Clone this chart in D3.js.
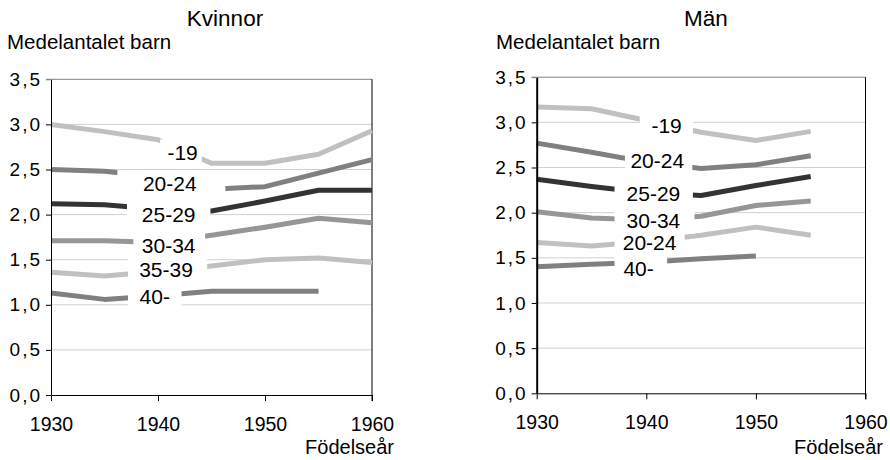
<!DOCTYPE html>
<html>
<head>
<meta charset="utf-8">
<script src="https://cdn.jsdelivr.net/npm/d3@7"></script>
<style>
  html, body { margin: 0; padding: 0; background: #fff; }
  svg { display: block; font-family: "Liberation Sans", Arial, sans-serif; }
</style>
</head>
<body>
<svg id="chart" width="890" height="460"></svg>
<script>
// ---- data ----
const years = [1930, 1935, 1940, 1945, 1950, 1955, 1960];
const yTicks = [0, 0.5, 1.0, 1.5, 2.0, 2.5, 3.0, 3.5];
const xTicks = [1930, 1940, 1950, 1960];

// Kvinnor
const kvinnorNames = ["-19", "20-24", "25-29", "30-34", "35-39", "40-"];
const kv19   = [3.00, 2.92, 2.83, 2.57, 2.57, 2.67, 2.93];
const kv2024 = [2.50, 2.48, 2.42, 2.28, 2.31, 2.46, 2.61];
const kv2529 = [2.12, 2.11, 2.06, 2.04, 2.15, 2.27, 2.27];
const kv3034 = [1.71, 1.71, 1.69, 1.77, 1.86, 1.96, 1.91];
const kv3539 = [1.36, 1.32, 1.37, 1.43, 1.50, 1.52, 1.47];
const kv40   = [1.13, 1.06, 1.10, 1.15, 1.15, 1.15, null];

// Män
const manNames = ["-19", "20-24", "25-29", "30-34", "20-24", "40-"];
const man19   = [3.17, 3.15, 3.02, 2.89, 2.80, 2.90, null];
const man2024 = [2.77, 2.67, 2.56, 2.49, 2.53, 2.63, null];
const man2529 = [2.37, 2.29, 2.22, 2.19, 2.30, 2.40, null];
const man3034 = [2.01, 1.94, 1.92, 1.96, 2.08, 2.13, null];
const man3539 = [1.67, 1.63, 1.68, 1.75, 1.84, 1.75, null];
const man40   = [1.40, 1.43, 1.45, 1.49, 1.52, null, null];

// ---- layout / style ----
const seriesColors = ["#c0c0c0", "#808080", "#333333", "#969696", "#c0c0c0", "#808080"];

// label placement: centre (year, value) and white box span in years
const kvLabelLayout = [
  {yr: 1942.3, val: 2.69, x0: 1940.2, x1: 1944.1},
  {yr: 1941.1, val: 2.35, x0: 1936.2, x1: 1946.3},
  {yr: 1941.0, val: 2.00, x0: 1937.1, x1: 1944.9},
  {yr: 1941.0, val: 1.66, x0: 1937.7, x1: 1944.4},
  {yr: 1940.75, val: 1.39, x0: 1937.2, x1: 1944.6},
  {yr: 1939.7, val: 1.09, x0: 1937.2, x1: 1942.2}
];
const manLabelLayout = [
  {yr: 1941.85, val: 2.97, x0: 1939.4, x1: 1944.25},
  {yr: 1941.0, val: 2.58, x0: 1938.05, x1: 1944.2},
  {yr: 1940.65, val: 2.21, x0: 1937.1, x1: 1944.25},
  {yr: 1940.65, val: 1.91, x0: 1937.1, x1: 1944.4},
  {yr: 1940.3, val: 1.67, x0: 1937.1, x1: 1943.5},
  {yr: 1939.3, val: 1.38, x0: 1937.1, x1: 1941.9}
];

const svg = d3.select("#chart");
const fmt = v => d3.format(".1f")(v).replace(".", ",");

function drawPanel(p) {
  const x = d3.scaleLinear().domain([1930, 1960]).range([p.left, p.right]);
  const y = d3.scaleLinear().domain([0, 3.5]).range([p.bottom, p.top]);
  const g = svg.append("g");

  // gridlines
  g.selectAll("line.grid").data(yTicks.filter(t => t > 0 && t < 3.5)).join("line")
    .attr("x1", p.left).attr("x2", p.right)
    .attr("y1", d => y(d)).attr("y2", d => y(d))
    .attr("stroke", "#d0d0d0").attr("stroke-width", 1);

  // top border (gray) incl. tick
  g.append("line").attr("x1", p.left - 5).attr("x2", p.right)
    .attr("y1", y(3.5)).attr("y2", y(3.5))
    .attr("stroke", "#808080").attr("stroke-width", 1);
  // right border
  g.append("line").attr("x1", p.right).attr("x2", p.right)
    .attr("y1", y(3.5)).attr("y2", p.bottom + 6)
    .attr("stroke", "#000").attr("stroke-width", 1);

  // series lines
  const line = d3.line()
    .defined(d => d.v != null)
    .x(d => x(d.yr)).y(d => y(d.v));
  p.series.forEach((s, i) => {
    g.append("path")
      .datum(years.map((yr, j) => ({yr, v: s[j]})))
      .attr("d", line)
      .attr("fill", "none")
      .attr("stroke", seriesColors[i])
      .attr("stroke-width", 5)
      .attr("stroke-linejoin", "round")
      .attr("stroke-linecap", "butt");
  });

  // y axis
  const ya = g.append("g").attr("transform", `translate(${p.left},0)`)
    .call(d3.axisLeft(y).tickValues(yTicks).tickFormat(fmt).tickSizeInner(5).tickSizeOuter(0).tickPadding(4));
  ya.select(".domain").attr("stroke", "#000").attr("stroke-width", p.axisW);
  ya.selectAll(".tick text").attr("font-size", 19).attr("fill", "#000")
    .attr("letter-spacing", "2px").attr("font-family", "Liberation Sans, Arial, sans-serif");
  ya.selectAll(".tick").filter(d => d === 3.5).select("line").attr("stroke", "#808080");

  // x axis
  const xa = g.append("g").attr("transform", `translate(0,${p.bottom})`)
    .call(d3.axisBottom(x).tickValues(xTicks).tickFormat(d3.format("d")).tickSizeInner(6).tickSizeOuter(0).tickPadding(16));
  xa.select(".domain").attr("stroke", "#000");
  xa.selectAll(".tick text").attr("font-size", 19.5).attr("fill", "#000")
    .attr("font-family", "Liberation Sans, Arial, sans-serif");

  // label boxes + labels
  const h = 13;
  g.selectAll("rect.lbl").data(p.labels).join("rect")
    .attr("x", d => x(d.x0)).attr("width", d => x(d.x1) - x(d.x0))
    .attr("y", d => y(d.val) - h).attr("height", 2 * h)
    .attr("fill", "#fff");
  g.selectAll("text.lbl").data(p.labels).join("text")
    .attr("x", d => x(d.yr)).attr("y", d => y(d.val))
    .attr("dy", "0.36em")
    .attr("text-anchor", "middle")
    .attr("font-size", 21)
    .text((d, i) => p.names[i]);

  // titles
  g.append("text").attr("x", p.titleX).attr("y", 26).attr("text-anchor", "middle")
    .attr("font-size", 22.5).text(p.title);
  g.append("text").attr("x", p.ytitleX).attr("y", 49)
    .attr("font-size", 20.5).text("Medelantalet barn");
  g.append("text").attr("x", p.xtitleX).attr("y", 454).attr("text-anchor", "end")
    .attr("font-size", 20).text("Födelseår");
}

drawPanel({
  left: 51, right: 372, top: 79.3, bottom: 395, axisW: 1,
  series: [kv19, kv2024, kv2529, kv3034, kv3539, kv40],
  names: kvinnorNames, labels: kvLabelLayout,
  title: "Kvinnor", titleX: 225, ytitleX: 7, xtitleX: 394
});
drawPanel({
  left: 536.7, right: 865.5, top: 77.2, bottom: 393.3, axisW: 2,
  series: [man19, man2024, man2529, man3034, man3539, man40],
  names: manNames, labels: manLabelLayout,
  title: "Män", titleX: 706, ytitleX: 496, xtitleX: 883
});
</script>
</body>
</html>
